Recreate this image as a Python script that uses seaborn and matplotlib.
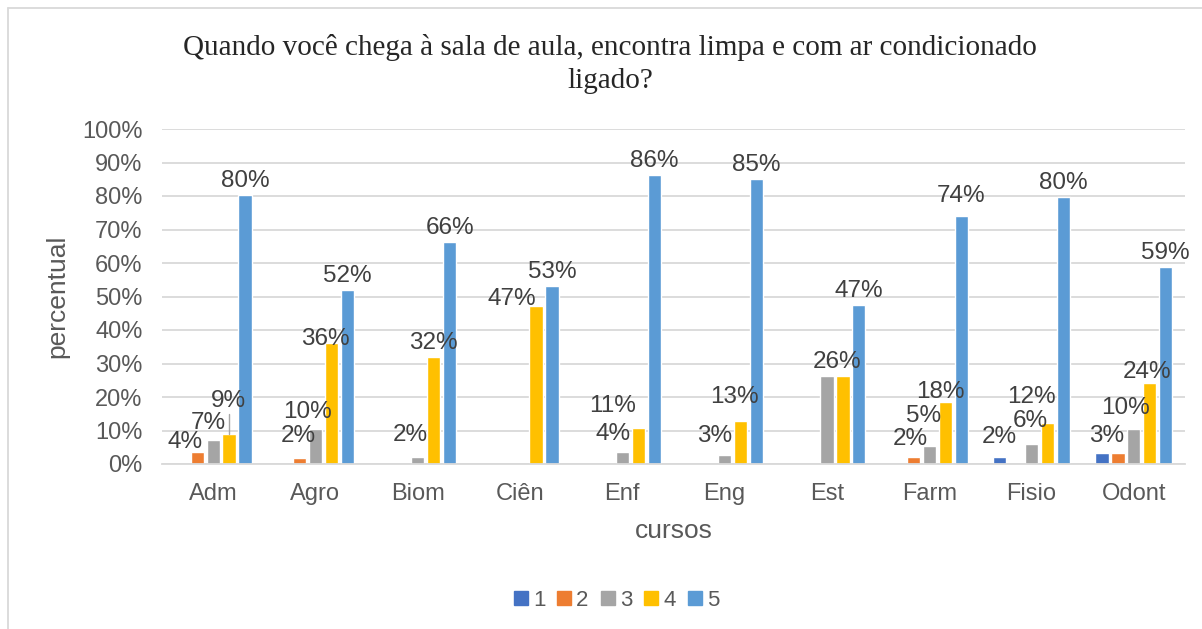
import matplotlib
matplotlib.use("Agg")
import matplotlib.pyplot as plt
from matplotlib.lines import Line2D
from matplotlib.ticker import FuncFormatter
import seaborn as sns
import pandas as pd

# courses on the x axis
cursos = ["Adm", "Agro", "Biom", "Ciên", "Enf", "Eng", "Est", "Farm", "Fisio", "Odont"]
niveis = ["1", "2", "3", "4", "5"]

# percentage per answer level
nivel_1 = [0, 0, 0, 0, 0, 0, 0, 0, 2.0, 3.4]
nivel_2 = [3.6, 1.7, 0, 0, 0, 0, 0, 2.2, 0, 3.4]
nivel_3 = [7.2, 10.4, 2.2, 0, 3.6, 2.6, 26.3, 5.4, 6.1, 10.4]
nivel_4 = [9.0, 36.2, 32.0, 47.3, 10.6, 12.8, 26.3, 18.4, 12.2, 24.2]
nivel_5 = [80.4, 51.9, 66.3, 53.1, 86.3, 85.0, 47.4, 74.1, 79.8, 58.8]

# data labels not shown in the original (they sit on top of an equal one)
escondidos = [("3", "Est"), ("2", "Odont")]

# hand-moved data labels, as in the excel chart: (dx, dy) in pixels, dy up
ajustes = {
    ("2", "Adm"): (-12, -4), ("3", "Adm"): (-5, 3), ("4", "Adm"): (-1, 19),
    ("2", "Agro"): (-1, 8), ("3", "Agro"): (-8, 3), ("4", "Agro"): (-6, -10),
    ("3", "Biom"): (-7, 8),
    ("4", "Ciên"): (-24, -7),
    ("3", "Enf"): (-9, 4), ("4", "Enf"): (-26, 8),
    ("3", "Eng"): (-10, 5), ("4", "Eng"): (-6, 10),
    ("4", "Est"): (-6, 0),
    ("2", "Farm"): (-3, 4), ("3", "Farm"): (-6, 16), ("4", "Farm"): (-5, -4), ("5", "Farm"): (0, 6),
    ("1", "Fisio"): (0, 6), ("3", "Fisio"): (-1, 9), ("4", "Fisio"): (-16, 12),
    ("1", "Odont"): (5, 3), ("3", "Odont"): (-8, 7), ("4", "Odont"): (-3, -3),
}

cores = ["#4472C4", "#ED7D31", "#A5A5A5", "#FFC000", "#5B9BD5"]

series = [nivel_1, nivel_2, nivel_3, nivel_4, nivel_5]
linhas = []
for n, vals in zip(niveis, series):
    for c, v in zip(cursos, vals):
        linhas.append({"curso": c, "nivel": n, "valor": v})
df = pd.DataFrame(linhas)

sns.set_style("white")
plt.rcParams["font.family"] = ["Liberation Sans", "DejaVu Sans"]

W, H = 1202, 629
fig = plt.figure(figsize=(W / 100, H / 100), dpi=100)
ax = fig.add_axes([162 / W, (H - 464) / H, (1185 - 162) / W, (464 - 129) / H])

sns.barplot(data=df, x="curso", y="valor", hue="nivel", order=cursos,
            hue_order=niveis, palette=cores, width=0.78, gap=0.17,
            saturation=1, ax=ax, legend=False)

px = 0.72  # points per pixel at 100 dpi
pad = 3
for n, cont, vals in zip(niveis, ax.containers, series):
    labs = []
    for c, v in zip(cursos, vals):
        if v == 0 or (n, c) in escondidos:
            labs.append("")
        else:
            labs.append("{:.0f}%".format(v))
    anns = ax.bar_label(cont, labels=labs, padding=pad * px, fontsize=17.5, color="#404040")
    for c, ann, bar in zip(cursos, anns, cont.patches):
        dx, dy = ajustes.get((n, c), (0, 0))
        ann.xyann = (dx * px, (pad + dy) * px)
        if (n, c) == ("4", "Adm"):
            # leader line from the moved label down to its bar
            xc = bar.get_x() + bar.get_width() / 2
            top = bar.get_height()
            ax.plot([xc, xc], [top, top + (pad + dy - 2) * 100 / 335], color="#A6A6A6", linewidth=1)

ax.set_ylim(0, 100)
ax.set_yticks(range(0, 101, 10))
ax.yaxis.set_major_formatter(FuncFormatter(lambda v, p: "{:.0f}%".format(v)))
ax.set_xlim(-0.5, len(cursos) - 0.5)
ax.grid(axis="y", color="#D9D9D9", linewidth=1.3)
ax.set_axisbelow(True)
for s in ["top", "right", "left"]:
    ax.spines[s].set_visible(False)
ax.spines["bottom"].set_color("#D9D9D9")
ax.spines["bottom"].set_linewidth(1.3)
ax.tick_params(axis="both", length=0, labelsize=17, labelcolor="#595959")
ax.tick_params(axis="y", pad=14)
ax.tick_params(axis="x", pad=14)

ax.set_xlabel("cursos", fontsize=19, color="#595959", labelpad=10)
ax.set_ylabel("percentual", fontsize=19, color="#595959", labelpad=9)

fig.text(0.5075, 1 - 64 / H, "Quando você chega à sala de aula, encontra limpa e com ar condicionado\nligado?",
         ha="center", va="center", fontsize=21, family="Liberation Serif",
         linespacing=1.38)

handles = [Line2D([], [], marker="s", linestyle="", markersize=10,
                  markerfacecolor=c, markeredgecolor=c) for c in cores]
fig.legend(handles, niveis, loc="center", bbox_to_anchor=(0.512, 1 - 600 / H),
           ncol=5, frameon=False, fontsize=16, labelcolor="#595959",
           handletextpad=0.15, columnspacing=0.45, handlelength=0.8)

# chart area border (only top and left edges visible)
fig.add_artist(Line2D([7.5 / W, 1], [1 - 7.5 / H, 1 - 7.5 / H], color="#D9D9D9", linewidth=1.3))
fig.add_artist(Line2D([7.5 / W, 7.5 / W], [0, 1 - 7.5 / H], color="#D9D9D9", linewidth=1.3))

fig.savefig("out.png", dpi=100)
